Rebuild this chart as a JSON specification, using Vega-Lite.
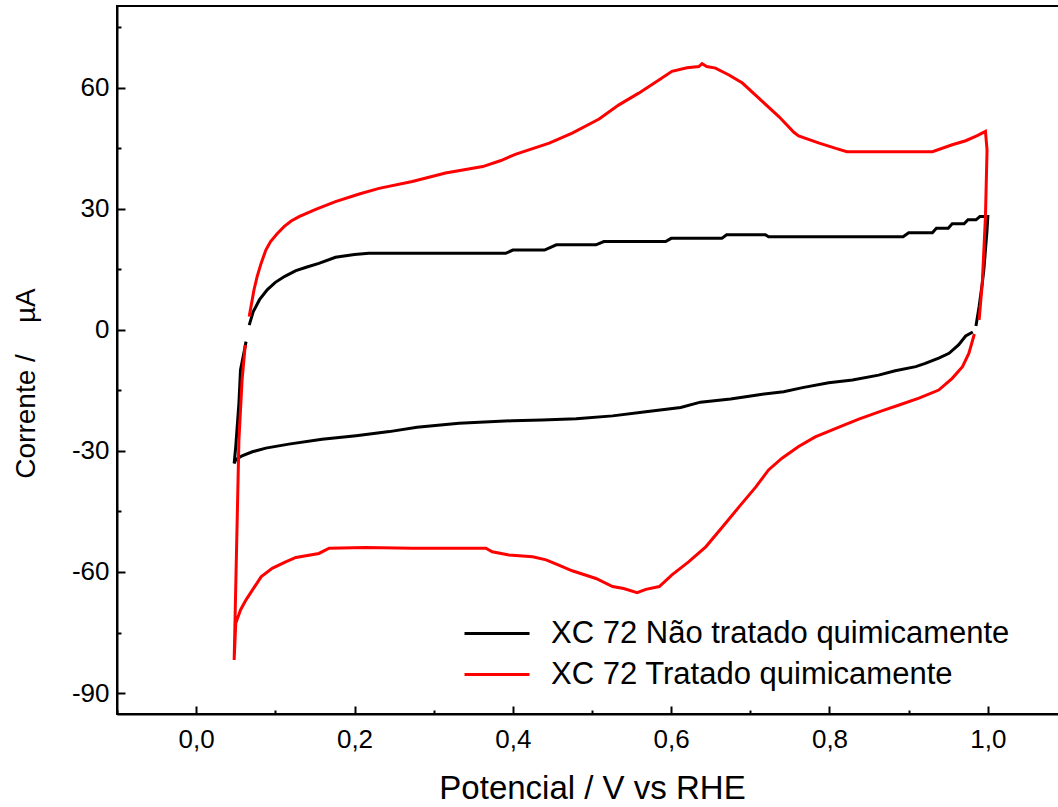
{
  "$schema": "https://vega.github.io/schema/vega-lite/v6.json",
  "width": 950,
  "height": 708,
  "autosize": {"type": "none"},
  "padding": {"left": 117, "top": 6, "right": 0, "bottom": 93},
  "background": "white",
  "config": {"view": {"stroke": "black", "strokeWidth": 2}, "font": "Liberation Sans"},
  "data": {"values": [
    {"s":"a","g":1,"i":1,"E":0.067,"I":1.2},{"s":"a","g":1,"i":2,"E":0.072,"I":4.5},{"s":"a","g":1,"i":3,"E":0.080,"I":7.5},{"s":"a","g":1,"i":4,"E":0.090,"I":10.0},{"s":"a","g":1,"i":5,"E":0.100,"I":11.8},{"s":"a","g":1,"i":6,"E":0.112,"I":13.3},{"s":"a","g":1,"i":7,"E":0.126,"I":14.7},{"s":"a","g":1,"i":8,"E":0.140,"I":15.6},{"s":"a","g":1,"i":9,"E":0.155,"I":16.5},{"s":"a","g":1,"i":10,"E":0.176,"I":18.0},{"s":"a","g":1,"i":11,"E":0.200,"I":18.7},{"s":"a","g":1,"i":12,"E":0.218,"I":19.0},{"s":"a","g":1,"i":13,"E":0.391,"I":19.0},{"s":"a","g":1,"i":14,"E":0.400,"I":19.8},{"s":"a","g":1,"i":15,"E":0.440,"I":19.8},{"s":"a","g":1,"i":16,"E":0.455,"I":21.1},{"s":"a","g":1,"i":17,"E":0.505,"I":21.1},{"s":"a","g":1,"i":18,"E":0.515,"I":21.9},{"s":"a","g":1,"i":19,"E":0.593,"I":21.9},{"s":"a","g":1,"i":20,"E":0.600,"I":22.7},{"s":"a","g":1,"i":21,"E":0.664,"I":22.7},{"s":"a","g":1,"i":22,"E":0.670,"I":23.6},{"s":"a","g":1,"i":23,"E":0.719,"I":23.6},{"s":"a","g":1,"i":24,"E":0.723,"I":23.1},{"s":"a","g":1,"i":25,"E":0.893,"I":23.1},{"s":"a","g":1,"i":26,"E":0.900,"I":24.1},{"s":"a","g":1,"i":27,"E":0.930,"I":24.1},{"s":"a","g":1,"i":28,"E":0.935,"I":25.2},{"s":"a","g":1,"i":29,"E":0.950,"I":25.2},{"s":"a","g":1,"i":30,"E":0.955,"I":26.3},{"s":"a","g":1,"i":31,"E":0.970,"I":26.3},{"s":"a","g":1,"i":32,"E":0.975,"I":27.3},{"s":"a","g":1,"i":33,"E":0.985,"I":27.3},{"s":"a","g":1,"i":34,"E":0.990,"I":28.1},{"s":"a","g":1,"i":35,"E":1.000,"I":28.1},{"s":"a","g":1,"i":36,"E":0.999,"I":24.8},{"s":"a","g":1,"i":37,"E":0.995,"I":15.0},{"s":"a","g":1,"i":38,"E":0.993,"I":11.6},{"s":"a","g":1,"i":39,"E":0.989,"I":5.8},{"s":"a","g":1,"i":40,"E":0.985,"I":1.0},
    {"s":"a","g":2,"i":1,"E":0.981,"I":-0.5},{"s":"a","g":2,"i":2,"E":0.972,"I":-1.5},{"s":"a","g":2,"i":3,"E":0.963,"I":-3.7},{"s":"a","g":2,"i":4,"E":0.951,"I":-5.8},{"s":"a","g":2,"i":5,"E":0.938,"I":-7.0},{"s":"a","g":2,"i":6,"E":0.921,"I":-8.3},{"s":"a","g":2,"i":7,"E":0.909,"I":-9.1},{"s":"a","g":2,"i":8,"E":0.883,"I":-10.1},{"s":"a","g":2,"i":9,"E":0.862,"I":-11.2},{"s":"a","g":2,"i":10,"E":0.829,"I":-12.4},{"s":"a","g":2,"i":11,"E":0.799,"I":-13.1},{"s":"a","g":2,"i":12,"E":0.766,"I":-14.3},{"s":"a","g":2,"i":13,"E":0.742,"I":-15.3},{"s":"a","g":2,"i":14,"E":0.709,"I":-16.1},{"s":"a","g":2,"i":15,"E":0.675,"I":-17.1},{"s":"a","g":2,"i":16,"E":0.637,"I":-17.9},{"s":"a","g":2,"i":17,"E":0.612,"I":-19.2},{"s":"a","g":2,"i":18,"E":0.568,"I":-20.3},{"s":"a","g":2,"i":19,"E":0.526,"I":-21.3},{"s":"a","g":2,"i":20,"E":0.480,"I":-22.0},{"s":"a","g":2,"i":21,"E":0.437,"I":-22.3},{"s":"a","g":2,"i":22,"E":0.399,"I":-22.5},{"s":"a","g":2,"i":23,"E":0.332,"I":-23.1},{"s":"a","g":2,"i":24,"E":0.279,"I":-24.1},{"s":"a","g":2,"i":25,"E":0.244,"I":-25.2},{"s":"a","g":2,"i":26,"E":0.202,"I":-26.2},{"s":"a","g":2,"i":27,"E":0.159,"I":-27.1},{"s":"a","g":2,"i":28,"E":0.117,"I":-28.3},{"s":"a","g":2,"i":29,"E":0.088,"I":-29.3},{"s":"a","g":2,"i":30,"E":0.071,"I":-30.2},{"s":"a","g":2,"i":31,"E":0.058,"I":-31.2},{"s":"a","g":2,"i":32,"E":0.050,"I":-32.2},{"s":"a","g":2,"i":33,"E":0.048,"I":-33.1},{"s":"a","g":2,"i":34,"E":0.050,"I":-28.9},{"s":"a","g":2,"i":35,"E":0.054,"I":-18.2},{"s":"a","g":2,"i":36,"E":0.056,"I":-9.9},{"s":"a","g":2,"i":37,"E":0.061,"I":-5.0},{"s":"a","g":2,"i":38,"E":0.063,"I":-2.9},
    {"s":"b","g":1,"i":1,"E":0.067,"I":3.3},{"s":"b","g":1,"i":2,"E":0.073,"I":9.9},{"s":"b","g":1,"i":3,"E":0.077,"I":13.2},{"s":"b","g":1,"i":4,"E":0.082,"I":16.5},{"s":"b","g":1,"i":5,"E":0.088,"I":19.8},{"s":"b","g":1,"i":6,"E":0.094,"I":21.9},{"s":"b","g":1,"i":7,"E":0.102,"I":23.8},{"s":"b","g":1,"i":8,"E":0.111,"I":25.6},{"s":"b","g":1,"i":9,"E":0.120,"I":27.0},{"s":"b","g":1,"i":10,"E":0.130,"I":28.1},{"s":"b","g":1,"i":11,"E":0.151,"I":29.9},{"s":"b","g":1,"i":12,"E":0.176,"I":31.8},{"s":"b","g":1,"i":13,"E":0.206,"I":33.7},{"s":"b","g":1,"i":14,"E":0.231,"I":35.1},{"s":"b","g":1,"i":15,"E":0.273,"I":36.8},{"s":"b","g":1,"i":16,"E":0.315,"I":38.9},{"s":"b","g":1,"i":17,"E":0.362,"I":40.5},{"s":"b","g":1,"i":18,"E":0.385,"I":42.0},{"s":"b","g":1,"i":19,"E":0.404,"I":43.6},{"s":"b","g":1,"i":20,"E":0.446,"I":46.3},{"s":"b","g":1,"i":21,"E":0.475,"I":48.8},{"s":"b","g":1,"i":22,"E":0.509,"I":52.3},{"s":"b","g":1,"i":23,"E":0.534,"I":55.8},{"s":"b","g":1,"i":24,"E":0.559,"I":58.7},{"s":"b","g":1,"i":25,"E":0.585,"I":62.0},{"s":"b","g":1,"i":26,"E":0.601,"I":64.1},{"s":"b","g":1,"i":27,"E":0.620,"I":65.0},{"s":"b","g":1,"i":28,"E":0.635,"I":65.3},{"s":"b","g":1,"i":29,"E":0.639,"I":66.0},{"s":"b","g":1,"i":30,"E":0.645,"I":65.3},{"s":"b","g":1,"i":31,"E":0.656,"I":64.9},{"s":"b","g":1,"i":32,"E":0.673,"I":63.2},{"s":"b","g":1,"i":33,"E":0.690,"I":61.2},{"s":"b","g":1,"i":34,"E":0.711,"I":57.4},{"s":"b","g":1,"i":35,"E":0.736,"I":52.9},{"s":"b","g":1,"i":36,"E":0.755,"I":49.0},{"s":"b","g":1,"i":37,"E":0.761,"I":48.1},{"s":"b","g":1,"i":38,"E":0.787,"I":46.3},{"s":"b","g":1,"i":39,"E":0.808,"I":45.0},{"s":"b","g":1,"i":40,"E":0.822,"I":44.2},{"s":"b","g":1,"i":41,"E":0.930,"I":44.2},{"s":"b","g":1,"i":42,"E":0.955,"I":45.9},{"s":"b","g":1,"i":43,"E":0.972,"I":46.9},{"s":"b","g":1,"i":44,"E":0.986,"I":48.1},{"s":"b","g":1,"i":45,"E":0.997,"I":49.2},{"s":"b","g":1,"i":46,"E":0.999,"I":44.6},{"s":"b","g":1,"i":47,"E":0.997,"I":28.1},{"s":"b","g":1,"i":48,"E":0.993,"I":11.6},{"s":"b","g":1,"i":49,"E":0.989,"I":2.5},
    {"s":"b","g":2,"i":1,"E":0.983,"I":-1.0},{"s":"b","g":2,"i":2,"E":0.976,"I":-5.8},{"s":"b","g":2,"i":3,"E":0.968,"I":-9.1},{"s":"b","g":2,"i":4,"E":0.955,"I":-12.0},{"s":"b","g":2,"i":5,"E":0.938,"I":-14.9},{"s":"b","g":2,"i":6,"E":0.913,"I":-16.9},{"s":"b","g":2,"i":7,"E":0.888,"I":-18.6},{"s":"b","g":2,"i":8,"E":0.867,"I":-20.0},{"s":"b","g":2,"i":9,"E":0.837,"I":-22.1},{"s":"b","g":2,"i":10,"E":0.812,"I":-24.1},{"s":"b","g":2,"i":11,"E":0.782,"I":-26.5},{"s":"b","g":2,"i":12,"E":0.761,"I":-28.9},{"s":"b","g":2,"i":13,"E":0.740,"I":-31.8},{"s":"b","g":2,"i":14,"E":0.723,"I":-34.7},{"s":"b","g":2,"i":15,"E":0.707,"I":-38.9},{"s":"b","g":2,"i":16,"E":0.686,"I":-43.8},{"s":"b","g":2,"i":17,"E":0.665,"I":-48.8},{"s":"b","g":2,"i":18,"E":0.644,"I":-53.7},{"s":"b","g":2,"i":19,"E":0.622,"I":-57.5},{"s":"b","g":2,"i":20,"E":0.601,"I":-60.7},{"s":"b","g":2,"i":21,"E":0.585,"I":-63.6},{"s":"b","g":2,"i":22,"E":0.568,"I":-64.3},{"s":"b","g":2,"i":23,"E":0.557,"I":-65.1},{"s":"b","g":2,"i":24,"E":0.540,"I":-64.1},{"s":"b","g":2,"i":25,"E":0.526,"I":-63.6},{"s":"b","g":2,"i":26,"E":0.505,"I":-61.6},{"s":"b","g":2,"i":27,"E":0.475,"I":-59.7},{"s":"b","g":2,"i":28,"E":0.458,"I":-58.3},{"s":"b","g":2,"i":29,"E":0.442,"I":-57.0},{"s":"b","g":2,"i":30,"E":0.425,"I":-56.2},{"s":"b","g":2,"i":31,"E":0.395,"I":-55.8},{"s":"b","g":2,"i":32,"E":0.374,"I":-55.0},{"s":"b","g":2,"i":33,"E":0.366,"I":-54.1},{"s":"b","g":2,"i":34,"E":0.273,"I":-54.1},{"s":"b","g":2,"i":35,"E":0.214,"I":-53.9},{"s":"b","g":2,"i":36,"E":0.168,"I":-54.1},{"s":"b","g":2,"i":37,"E":0.155,"I":-55.4},{"s":"b","g":2,"i":38,"E":0.126,"I":-56.4},{"s":"b","g":2,"i":39,"E":0.113,"I":-57.5},{"s":"b","g":2,"i":40,"E":0.096,"I":-59.1},{"s":"b","g":2,"i":41,"E":0.082,"I":-61.2},{"s":"b","g":2,"i":42,"E":0.071,"I":-64.5},{"s":"b","g":2,"i":43,"E":0.063,"I":-66.9},{"s":"b","g":2,"i":44,"E":0.056,"I":-69.4},{"s":"b","g":2,"i":45,"E":0.050,"I":-72.7},{"s":"b","g":2,"i":46,"E":0.048,"I":-81.8},{"s":"b","g":2,"i":47,"E":0.051,"I":-54.5},{"s":"b","g":2,"i":48,"E":0.054,"I":-27.3},{"s":"b","g":2,"i":49,"E":0.058,"I":-12.4},{"s":"b","g":2,"i":50,"E":0.062,"I":-3.7}
  ]},
  "layer": [
    {
      "mark": {"type": "line", "strokeWidth": 3},
      "encoding": {
        "x": {"field": "E", "type": "quantitative",
          "scale": {"domain": [-0.1, 1.1], "nice": false, "zero": false},
          "axis": {"orient": "bottom", "values": [0, 0.2, 0.4, 0.6, 0.8, 1.0],
            "labelExpr": "replace(format(datum.value, '.1f'), '.', ',')",
            "grid": false, "tickSize": -8, "tickWidth": 2, "tickColor": "black",
            "domainColor": "black", "domainWidth": 2, "labelFontSize": 26, "labelColor": "black",
            "labelPadding": 20, "labelFlush": false,
            "title": "Potencial / V vs RHE", "titleFontSize": 33, "titleFontWeight": "normal",
            "titleColor": "black", "titlePadding": 20}},
        "y": {"field": "I", "type": "quantitative",
          "scale": {"domain": [-95.2, 80.3], "nice": false, "zero": false},
          "axis": {"orient": "left", "values": [-90, -60, -30, 0, 30, 60],
            "labelExpr": "datum.value + ''",
            "grid": false, "tickSize": -8, "tickWidth": 2, "tickColor": "black",
            "domainColor": "black", "domainWidth": 2, "labelFontSize": 26, "labelColor": "black",
            "labelPadding": 16, "labelFlush": false,
            "title": "Corrente /\u00a0\u00a0\u00a0\u00a0µA", "titleFontSize": 28, "titleFontWeight": "normal",
            "titleColor": "black", "titleX": -83, "titleY": 377, "titleAngle": -90,
            "titleAlign": "center", "titleBaseline": "alphabetic"}},
        "color": {"field": "s", "type": "nominal",
          "scale": {"domain": ["a", "b"], "range": ["#000000", "#ff0000"]},
          "legend": {"orient": "none", "legendX": 346, "legendY": 608, "title": null,
            "symbolType": "stroke", "symbolSize": 4225, "symbolStrokeWidth": 3,
            "labelFontSize": 31, "labelColor": "black", "labelOffset": 20, "labelLimit": 700,
            "clipHeight": 39, "rowPadding": 2,
            "labelExpr": "datum.label == 'a' ? 'XC 72 Não tratado quimicamente' : 'XC 72 Tratado quimicamente'"}},
        "detail": {"field": "g"},
        "order": {"field": "i", "type": "quantitative"}
      }
    },
    {
      "mark": {"type": "point", "opacity": 0},
      "encoding": {
        "x": {"field": "E", "type": "quantitative",
          "axis": {"orient": "bottom", "values": [-0.1, 0.1, 0.3, 0.5, 0.7, 0.9, 1.1],
            "labels": false, "domain": false, "grid": false, "tickSize": -4, "tickWidth": 2,
            "tickColor": "black", "title": null}},
        "y": {"field": "I", "type": "quantitative",
          "axis": {"orient": "left", "values": [-75, -45, -15, 15, 45, 75],
            "labels": false, "domain": false, "grid": false, "tickSize": -4, "tickWidth": 2,
            "tickColor": "black", "title": null}}
      }
    }
  ],
  "resolve": {"axis": {"x": "independent", "y": "independent"}}
}
